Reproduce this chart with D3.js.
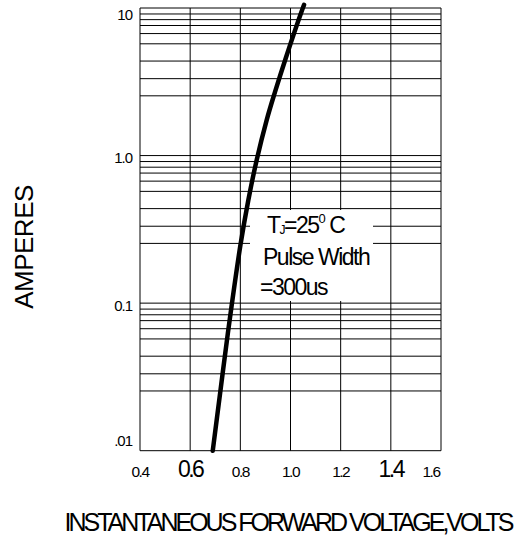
<!DOCTYPE html>
<html>
<head>
<meta charset="utf-8">
<script src="https://cdn.jsdelivr.net/npm/d3@7"></script>
<style>
  body { margin: 0; background: #fff; }
  text { font-family: "Liberation Sans", Arial, sans-serif; fill: #000; }
</style>
</head>
<body>
<svg id="chart" width="525" height="537"></svg>
<script>
// forward voltage curve
const vf   = [0.69, 0.72, 0.75, 0.80, 0.832, 0.865, 0.905, 0.938, 0.981, 1.047, 1.054]
const amps = [0.01, 0.025, 0.062, 0.245, 0.50, 0.93, 1.74, 2.69, 4.57, 9.77, 10.5]

const xTicks = [0.4, 0.6, 0.8, 1.0, 1.2, 1.4, 1.6]
const xTickLabels = ["0.4", "0.6", "0.8", "1.0", "1.2", "1.4", "1.6"]
const bigXTicks = ["0.6", "1.4"]

const decades = [0.01, 0.1, 1, 10]
const yTickLabels = [".01", "0.1", "1.0", "10"]
// minor grid lines as drawn in the original (per decade multiples)
const minorMultiples = [2.54, 3.32, 4.37, 5.72, 6.71, 7.61, 8.34, 9.11]

const svg = d3.select("#chart")
const x = d3.scaleLinear().domain([0.4, 1.6]).range([140, 441])
const y = d3.scaleLog().domain([0.01, 10]).range([450.7, 8])

const gridVals = []
decades.slice(0, -1).forEach(d => minorMultiples.forEach(m => gridVals.push(d * m)))

var grid = svg.append("g").attr("class", "grid").attr("stroke", "#000").attr("stroke-width", 1)

grid.selectAll("line.h").data(decades.concat(gridVals)).enter().append("line")
  .attr("class", "h")
  .attr("x1", x(0.4)).attr("x2", x(1.6))
  .attr("y1", d => y(d)).attr("y2", d => y(d))

grid.selectAll("line.v").data(xTicks).enter().append("line")
  .attr("class", "v")
  .attr("x1", d => x(d)).attr("x2", d => x(d))
  .attr("y1", y(10)).attr("y2", y(0.01))

// x tick labels
svg.append("g").selectAll("text").data(xTicks).enter().append("text")
  .attr("x", d => Math.min(x(d), 431))
  .attr("y", 477)
  .attr("text-anchor", "middle")
  .style("font-size", (d, i) => bigXTicks.includes(xTickLabels[i]) ? "23px" : "15.5px")
  .style("letter-spacing", (d, i) => bigXTicks.includes(xTickLabels[i]) ? "-2.5px" : "-1.5px")
  .text((d, i) => xTickLabels[i])

// y tick labels
svg.append("g").selectAll("text").data(decades).enter().append("text")
  .attr("x", 132)
  .attr("y", d => Math.min(Math.max(y(d) + 2, 15), 441))
  .attr("dy", "0.36em")
  .attr("text-anchor", "end")
  .style("font-size", "15px")
  .style("letter-spacing", "-1px")
  .text((d, i) => yTickLabels[i])

// annotation box
var note = svg.append("g").attr("class", "note")
note.append("rect").attr("x", 250).attr("y", 210).attr("width", 123).attr("height", 91).style("fill", "#fff")

var l1 = note.append("text").attr("x", 267).attr("y", 233).style("font-size", "23px").style("letter-spacing", "-1.5px")
l1.append("tspan").text("T")
l1.append("tspan").style("font-size", "12px").attr("dy", 1).text("J")
l1.append("tspan").attr("dy", -1).text("=25")
l1.append("tspan").style("font-size", "13px").attr("dy", -10).text("0")
l1.append("tspan").attr("dy", 10).text(" C")

note.append("text").attr("x", 263).attr("y", 265).style("font-size", "23px").style("letter-spacing", "-1.5px").text("Pulse Width")
note.append("text").attr("x", 260).attr("y", 295).style("font-size", "23px").style("letter-spacing", "-1.5px").text("=300us")

// curve
const line = d3.line().x(d => x(d[0])).y(d => y(d[1])).curve(d3.curveCatmullRom)
svg.append("path")
  .datum(vf.map((v, i) => [v, amps[i]]))
  .attr("d", line)
  .style("fill", "none")
  .style("stroke", "#000")
  .style("stroke-width", 4.5)
  .style("stroke-linecap", "round")

// axis titles
svg.append("text")
  .attr("transform", "translate(33,247) rotate(-90)")
  .attr("text-anchor", "middle")
  .style("font-size", "26px")
  .style("letter-spacing", "-0.5px")
  .text("AMPERES")

svg.append("text")
  .attr("x", 288).attr("y", 531)
  .attr("text-anchor", "middle")
  .style("font-size", "25px")
  .style("letter-spacing", "-3px")
  .text("INSTANTANEOUS FORWARD VOLTAGE,VOLTS")
</script>
</body>
</html>
